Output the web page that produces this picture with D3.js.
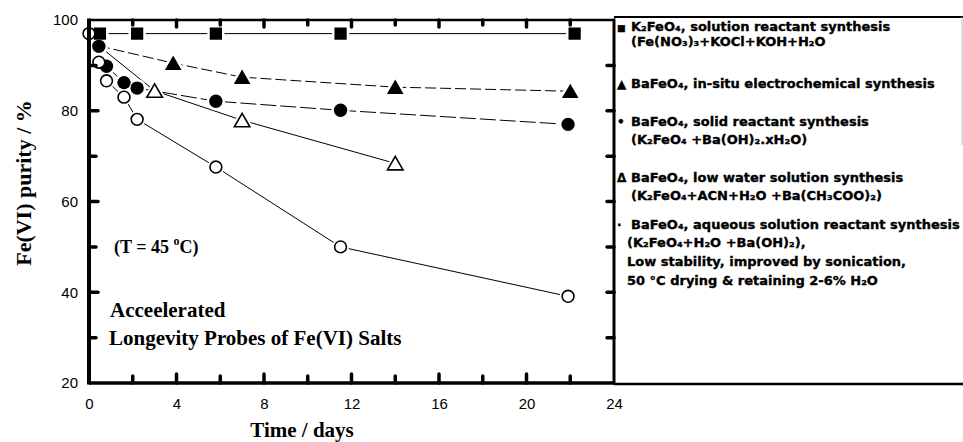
<!DOCTYPE html>
<html>
<head>
<meta charset="utf-8">
<script src="https://cdn.jsdelivr.net/npm/d3@7"></script>
<style>
  body { margin: 0; background: #fff; }
  svg { display: block; }
</style>
</head>
<body>
<div id="chart"></div>
<script>
// data (days, Fe(VI) purity %)
var k2feo4Days = [0, 0.5, 2.2, 5.8, 11.5, 22.2];
var k2feo4Vals = [97, 97, 97, 97, 97, 97];

var electroDays = [0.45, 3.85, 7.0, 14.0, 22.0];
var electroVals = [94.3, 90.5, 87.4, 85.2, 84.3];

var solidDays = [0, 0.45, 0.8, 1.6, 2.2, 5.8, 11.5, 21.9];
var solidVals = [97, 94.2, 89.8, 86.2, 85.0, 82.1, 80.1, 77.0];

var lowWaterDays = [0.45, 3.0, 7.0, 14.0];
var lowWaterVals = [94.3, 84.4, 77.9, 68.4];

var aqueousDays = [0, 0.45, 0.8, 1.6, 2.2, 5.8, 11.5, 21.9];
var aqueousVals = [97, 90.7, 86.6, 83.0, 78.1, 67.6, 50.0, 39.1];

var xTicks = [0, 4, 8, 12, 16, 20, 24];
var yTicks = [20, 40, 60, 80, 100];

var legendLines = [
    { mark: '\u25A0', text: 'K\u2082FeO\u2084, solution reactant synthesis' },
    { mark: '', text: '(Fe(NO\u2083)\u2083+KOCl+KOH+H\u2082O' },
    { mark: '\u25B2', text: 'BaFeO\u2084, in-situ electrochemical synthesis' },
    { mark: '\u2022', text: 'BaFeO\u2084, solid reactant synthesis' },
    { mark: '', text: '(K\u2082FeO\u2084 +Ba(OH)\u2082.xH\u2082O)' },
    { mark: '\u0394', text: 'BaFeO\u2084, low water solution synthesis' },
    { mark: '', text: '(K\u2082FeO\u2084+ACN+H\u2082O +Ba(CH\u2083COO)\u2082)' },
    { mark: '\u00B7', text: 'BaFeO\u2084, aqueous solution reactant synthesis' },
    { mark: '', text: '(K\u2082FeO\u2084+H\u2082O +Ba(OH)\u2082),' },
    { mark: '', text: 'Low stability, improved by  sonication,' },
    { mark: '', text: '50  \u00B0C drying & retaining 2-6% H\u2082O' }
];
var legendBaselines = [31, 46, 88, 126, 144, 182, 200, 229, 247, 266, 285];

(function () {
    var width = 963, height = 442;
    var mLeft = 89, mRight = 614, mTop = 20, mBottom = 383;

    var svg = d3.select('#chart').append('svg')
        .attr('width', width)
        .attr('height', height);

    var x = d3.scaleLinear().domain([0, 24]).range([mLeft, mRight]);
    var y = d3.scaleLinear().domain([20, 100]).range([mBottom, mTop]);

    var series = [
        { days: k2feo4Days, vals: k2feo4Vals, shape: 'square', dash: null, skip: 1 },
        { days: electroDays, vals: electroVals, shape: 'triUp', dash: '11,4', skip: 1 },
        { days: solidDays, vals: solidVals, shape: 'circle', dash: '16,4', skip: 1 },
        { days: lowWaterDays, vals: lowWaterVals, shape: 'triOpen', dash: null, skip: 1 },
        { days: aqueousDays, vals: aqueousVals, shape: 'circleOpen', dash: null, skip: 0 }
    ];

    var line = d3.line()
        .x(function (d) { return x(d[0]); })
        .y(function (d) { return y(d[1]); });

    var plot = svg.append('g');

    series.forEach(function (s) {
        var pts = s.days.map(function (d, i) { return [d, s.vals[i]]; });
        plot.append('path')
            .attr('d', line(pts))
            .attr('fill', 'none')
            .attr('stroke', '#000')
            .attr('stroke-width', 1)
            .attr('stroke-dasharray', s.dash);
    });

    var symbols = {
        square: d3.symbol().type(d3.symbolSquare).size(150),
        triUp: d3.symbol().type(d3.symbolTriangle).size(120),
        circle: d3.symbol().type(d3.symbolCircle).size(140),
        triOpen: d3.symbol().type(d3.symbolTriangle).size(105),
        circleOpen: d3.symbol().type(d3.symbolCircle).size(110)
    };

    function markerPoints(s) {
        return s.days.map(function (d, i) { return [d, s.vals[i]]; }).slice(s.skip);
    }

    function place(s) {
        return function (d) {
            var dy = s.shape.indexOf('tri') === 0 ? 2 : 0;
            return 'translate(' + x(d[0]) + ',' + (y(d[1]) + dy) + ')';
        };
    }

    // white halos so lines stop short of markers
    series.forEach(function (s) {
        plot.selectAll(null)
            .data(markerPoints(s))
            .enter().append('path')
            .attr('transform', place(s))
            .attr('d', symbols[s.shape])
            .attr('fill', '#fff')
            .attr('stroke', '#fff')
            .attr('stroke-width', 5);
    });

    series.forEach(function (s) {
        var open = s.shape === 'triOpen' || s.shape === 'circleOpen';
        plot.selectAll(null)
            .data(markerPoints(s))
            .enter().append('path')
            .attr('transform', place(s))
            .attr('d', symbols[s.shape])
            .attr('fill', open ? '#fff' : '#000')
            .attr('stroke', '#000')
            .attr('stroke-width', open ? 1.6 : 0);
    });

    // frame
    function rule(x1, y1, x2, y2, w, c) {
        svg.append('line').attr('x1', x1).attr('y1', y1).attr('x2', x2).attr('y2', y2)
            .attr('stroke', c || '#000').attr('stroke-width', w);
    }
    rule(mLeft, mTop - 1.5, mLeft, mBottom + 1.5, 4);
    rule(mLeft, mBottom, mRight, mBottom, 3.5);
    rule(mRight, mTop - 1.5, mRight, mBottom + 1.5, 3);
    rule(mLeft, mTop, mRight, mTop, 2.5);

    // tick labels via d3 axes, tick marks drawn inward by hand
    var sans = '"Liberation Sans", Arial, sans-serif';
    var axes = svg.append('g');
    axes.append('g')
        .attr('transform', 'translate(0,' + mBottom + ')')
        .call(d3.axisBottom(x).tickValues(xTicks).tickSize(0).tickPadding(15).tickFormat(d3.format('d')));
    axes.append('g')
        .attr('transform', 'translate(' + mLeft + ',0)')
        .call(d3.axisLeft(y).tickValues(yTicks).tickSize(0).tickPadding(11).tickFormat(d3.format('d')));
    axes.selectAll('.domain').remove();
    axes.selectAll('.tick line').remove();
    axes.selectAll('g').attr('font-size', 15).attr('font-family', sans);
    axes.selectAll('.tick text').attr('fill', '#000');

    var ticks = svg.append('g')
        .attr('stroke', '#000')
        .attr('stroke-width', 3.5)
        .attr('stroke-linecap', 'round');
    var xMinor = d3.range(2, 24, 2);
    ticks.selectAll(null).data(xMinor).enter().append('line')       // bottom
        .attr('x1', function (d) { return x(d); }).attr('x2', function (d) { return x(d); })
        .attr('y1', mBottom).attr('y2', function (d) { return mBottom - (d % 4 === 0 ? 9 : 7); });
    ticks.selectAll(null).data(xMinor).enter().append('line')       // top
        .attr('x1', function (d) { return x(d); }).attr('x2', function (d) { return x(d); })
        .attr('y1', mTop).attr('y2', function (d) { return mTop + (d % 4 === 0 ? 7 : 5); });
    var yMinor = d3.range(30, 100, 10);
    ticks.selectAll(null).data(yMinor).enter().append('line')       // left
        .attr('y1', function (d) { return y(d); }).attr('y2', function (d) { return y(d); })
        .attr('x1', mLeft).attr('x2', function (d) { return mLeft + (d % 20 === 0 ? 9 : 7); });
    ticks.selectAll(null).data(yMinor).enter().append('line')       // right
        .attr('y1', function (d) { return y(d); }).attr('y2', function (d) { return y(d); })
        .attr('x1', mRight).attr('x2', mRight - 7);

    // legend box
    rule(mRight, 17, width, 17, 2);
    rule(mRight, 384, width, 384, 2.5);
    rule(962, 17, 962, 145, 1, '#bbb');

    var legend = svg.append('g')
        .style('font-family', '"DejaVu Sans", Verdana, sans-serif')
        .style('font-weight', 'bold')
        .style('font-size', '13px')
        .attr('stroke', '#000')
        .attr('stroke-width', 0.35);

    legend.selectAll('text.mark')
        .data(legendLines)
        .enter().append('text')
        .attr('class', 'mark')
        .attr('x', 617)
        .attr('y', function (d, i) { return legendBaselines[i]; })
        .style('font-size', function (d) { return d.mark === '\u25A0' ? '9px' : '12px'; })
        .text(function (d) { return d.mark; });

    legend.selectAll('text.label')
        .data(legendLines)
        .enter().append('text')
        .attr('class', 'label')
        .attr('x', function (d, i) { return i >= 8 ? 627 : 631; })
        .attr('y', function (d, i) { return legendBaselines[i]; })
        .text(function (d) { return d.text; });

    // axis titles
    var serif = '"Liberation Serif", "Times New Roman", serif';
    svg.append('text')
        .attr('x', 302)
        .attr('y', 437)
        .attr('text-anchor', 'middle')
        .style('font-family', serif)
        .style('font-weight', 'bold')
        .style('font-size', '21px')
        .text('Time / days');

    svg.append('text')
        .attr('transform', 'translate(31,183) rotate(-90)')
        .attr('text-anchor', 'middle')
        .style('font-family', serif)
        .style('font-weight', 'bold')
        .style('font-size', '22px')
        .text('Fe(VI) purity / %');

    // annotations
    var note = svg.append('text')
        .attr('x', 114)
        .attr('y', 253)
        .style('font-family', serif)
        .style('font-weight', 'bold')
        .style('font-size', '18px');
    note.append('tspan').text('(T = 45 ');
    note.append('tspan').attr('dy', -8).style('font-size', '12px').text('o');
    note.append('tspan').attr('dy', 8).text('C)');

    svg.append('text')
        .attr('x', 110)
        .attr('y', 317)
        .style('font-family', serif)
        .style('font-weight', 'bold')
        .style('font-size', '21px')
        .text('Acceelerated');
    svg.append('text')
        .attr('x', 109)
        .attr('y', 345)
        .style('font-family', serif)
        .style('font-weight', 'bold')
        .style('font-size', '21px')
        .text('Longevity Probes of Fe(VI) Salts');
})();
</script>
</body>
</html>
